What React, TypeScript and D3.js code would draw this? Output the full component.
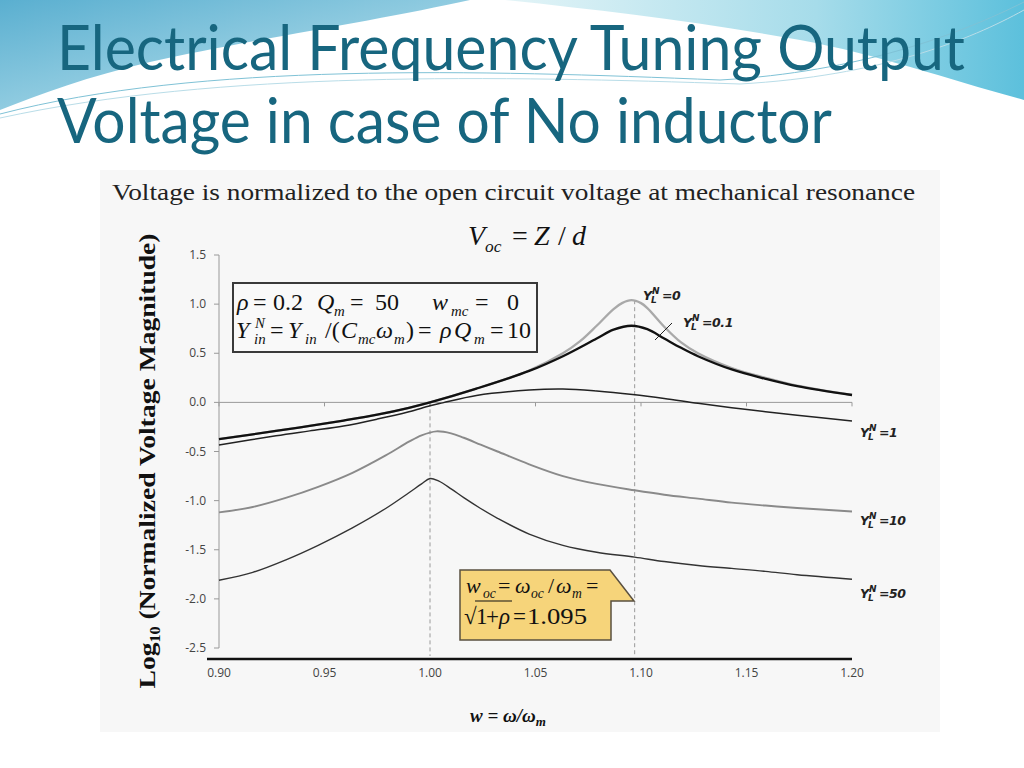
import * as d3 from "d3";

// Ticks dos eixos
const xTicks = [0.9, 0.95, 1.0, 1.05, 1.1, 1.15, 1.2];
const yTicks = [1.5, 1.0, 0.5, 0.0, -0.5, -1.0, -1.5, -2.0, -2.5];

// Curvas (w = omega/omega_m, log10 da tensao normalizada)
const wY0 = [0.9, 0.927, 0.943, 0.959, 0.975, 0.99, 1.0, 1.022, 1.047, 1.063, 1.071, 1.079, 1.087, 1.091, 1.0955, 1.1, 1.103, 1.111, 1.119, 1.127, 1.143, 1.159, 1.174, 1.2];
const vY0 = [-0.375, -0.29, -0.24, -0.185, -0.125, -0.055, 0, 0.14, 0.325, 0.5, 0.62, 0.78, 0.95, 1.01, 1.04, 1.01, 0.96, 0.77, 0.61, 0.5, 0.35, 0.25, 0.17, 0.075];

const wY01 = [0.9, 0.927, 0.943, 0.959, 0.975, 0.99, 1.0, 1.022, 1.047, 1.063, 1.079, 1.087, 1.0955, 1.103, 1.111, 1.119, 1.127, 1.143, 1.159, 1.174, 1.2];
const vY01 = [-0.375, -0.29, -0.24, -0.185, -0.125, -0.055, 0, 0.14, 0.32, 0.47, 0.65, 0.74, 0.78, 0.745, 0.65, 0.555, 0.47, 0.335, 0.24, 0.165, 0.075];

const wY1 = [0.9, 0.927, 0.943, 0.959, 0.975, 0.99, 1.0, 1.006, 1.022, 1.047, 1.063, 1.079, 1.096, 1.111, 1.127, 1.143, 1.159, 1.174, 1.2];
const vY1 = [-0.435, -0.34, -0.29, -0.24, -0.17, -0.095, -0.035, -0.005, 0.07, 0.125, 0.135, 0.115, 0.08, 0.04, -0.01, -0.055, -0.095, -0.13, -0.19];

const wY10 = [0.9, 0.916, 0.932, 0.947, 0.963, 0.979, 0.99, 0.996, 1.003, 1.01, 1.016, 1.024, 1.032, 1.047, 1.063, 1.079, 1.097, 1.111, 1.127, 1.143, 1.159, 1.174, 1.2];
const vY10 = [-1.12, -1.065, -0.97, -0.86, -0.72, -0.54, -0.4, -0.335, -0.295, -0.315, -0.36, -0.43, -0.5, -0.63, -0.75, -0.83, -0.895, -0.94, -0.98, -1.02, -1.05, -1.075, -1.11];

const wY50 = [0.9, 0.916, 0.932, 0.947, 0.963, 0.979, 0.99, 0.996, 1.0, 1.004, 1.01, 1.016, 1.024, 1.032, 1.047, 1.063, 1.079, 1.097, 1.111, 1.127, 1.143, 1.159, 1.174, 1.2];
const vY50 = [-1.81, -1.73, -1.6, -1.455, -1.28, -1.08, -0.92, -0.83, -0.775, -0.8, -0.88, -0.97, -1.08, -1.18, -1.34, -1.455, -1.525, -1.575, -1.62, -1.66, -1.69, -1.72, -1.755, -1.8];

// Frequencias de referencia (linhas tracejadas)
const W_MEC = 1.0;
const W_OC = 1.097;

const SERIES = [
  { id: "0", w: wY0, v: vY0, color: "#a9a9a9", width: 2.3 },
  { id: "0.1", w: wY01, v: vY01, color: "#111", width: 2.3 },
  { id: "1", w: wY1, v: vY1, color: "#222", width: 1.5 },
  { id: "10", w: wY10, v: vY10, color: "#8a8a8a", width: 1.9 },
  { id: "50", w: wY50, v: vY50, color: "#333", width: 1.4 }
];

const SERIF = "'Liberation Serif', 'DejaVu Serif', serif";
const LABEL_FONT = "'DejaVu Sans', Verdana, sans-serif";
const TICK_FONT = "'Open Sans', 'DejaVu Sans', sans-serif";

type Part = { x: number; t: string; i?: boolean; sub?: boolean; sup?: boolean; len?: number };

// Texto matematico com partes posicionadas
const MathLine = ({ y, size, parts }: { y: number; size: number; parts: Part[] }) => (
  <g fontFamily={SERIF} fill="#111">
    {parts.map((p, k) => (
      <text
        key={k}
        x={p.x}
        y={p.sub ? y + size * 0.24 : p.sup ? y - size * 0.42 : y}
        fontSize={p.sub || p.sup ? size * 0.62 : size}
        fontStyle={p.i ? "italic" : "normal"}
        textLength={p.len}
        lengthAdjust={p.len ? "spacingAndGlyphs" : undefined}
      >
        {p.t}
      </text>
    ))}
  </g>
);

// Rotulo Y_L^N = valor
const YLabel = ({ x, y, value }: { x: number; y: number; value: string }) => (
  <g fontFamily={LABEL_FONT} fontWeight="bold" fontStyle="italic" fill="#222" fontSize={12.5}>
    <text x={x} y={y}>Y</text>
    <text x={x + 9} y={y - 6} fontSize={9}>N</text>
    <text x={x + 8} y={y + 3} fontSize={9}>L</text>
    <text x={x + 19} y={y} letterSpacing={-0.4}>{"=" + value}</text>
  </g>
);

export default function App() {
  const x = d3.scaleLinear().domain([0.9, 1.2]).range([219, 852]);
  const y = d3.scaleLinear().domain([-2.5, 1.5]).range([648, 255]);

  const line = d3
    .line<[number, number]>()
    .x((d) => x(d[0]))
    .y((d) => y(d[1]))
    .curve(d3.curveCatmullRom.alpha(0.5));

  const peakY0 = d3.max(vY0) as number;

  return (
    <svg width={1024} height={768} style={{ position: "absolute", left: 0, top: 0 }}>
      <defs>
        <linearGradient id="gLeft" x1="0" y1="0" x2="1" y2="1">
          <stop offset="0" stopColor="#5aafd0" />
          <stop offset="1" stopColor="#c6e8f1" />
        </linearGradient>
        <linearGradient id="gRight" x1="0" y1="0" x2="1" y2="0">
          <stop offset="0" stopColor="#e3f4f7" />
          <stop offset="0.6" stopColor="#a6dcea" />
          <stop offset="1" stopColor="#5cc0dc" />
        </linearGradient>
      </defs>

      <rect width={1024} height={768} fill="#fff" />

      {/* Decoracao do slide */}
      <path d="M0,0 H470 C380,20 250,40 150,62 C90,76 40,94 0,110 Z" fill="url(#gLeft)" />
      <path d="M505,0 H1024 V100 C950,80 880,55 800,40 C700,22 600,10 505,0 Z" fill="url(#gRight)" />
      <path d="M0,114 C200,62 480,70 720,80 C860,72 960,34 1024,2" fill="none" stroke="#7fc2d6" strokeWidth={1} />
      <path d="M0,118 C220,70 500,76 740,84 C880,76 970,40 1024,10" fill="none" stroke="#b9dde8" strokeWidth={1} />

      {/* Titulo */}
      <g fontFamily="Lato, 'Open Sans', sans-serif" fill="#17667f" fontSize={62}>
        <text x={57} y={70} textLength={908} lengthAdjust="spacingAndGlyphs">
          Electrical Frequency Tuning Output
        </text>
        <text x={57} y={143} textLength={775} lengthAdjust="spacingAndGlyphs">
          Voltage in case of No inductor
        </text>
      </g>

      {/* Fundo da figura */}
      <rect x={100} y={170} width={840} height={562} fill="#f7f7f7" />

      <text x={112} y={200} fontFamily={SERIF} fontSize={24} fill="#222" textLength={803} lengthAdjust="spacingAndGlyphs">
        Voltage is normalized to the open circuit voltage at mechanical resonance
      </text>

      <MathLine
        y={245}
        size={28}
        parts={[
          { x: 468, t: "V", i: true },
          { x: 485, t: "oc", i: true, sub: true },
          { x: 512, t: "=" },
          { x: 534, t: "Z", i: true },
          { x: 558, t: "/" },
          { x: 572, t: "d", i: true }
        ]}
      />

      {/* Eixo Y */}
      <line x1={x(0.9)} x2={x(0.9)} y1={y(1.5)} y2={y(-2.5)} stroke="#999" />
      {yTicks.map((t) => (
        <g key={t}>
          <line x1={x(0.9) - 5} x2={x(0.9)} y1={y(t)} y2={y(t)} stroke="#999" />
          <text x={206} y={y(t) + 4} textAnchor="end" fontFamily={TICK_FONT} fontSize={12} fill="#444">
            {t.toFixed(1)}
          </text>
        </g>
      ))}

      {/* Eixo X em zero */}
      <line x1={x(0.9)} x2={x(1.2)} y1={y(0)} y2={y(0)} stroke="#999" />
      {xTicks.map((t) => (
        <g key={t}>
          <line x1={x(t)} x2={x(t)} y1={y(0)} y2={y(0) + 4} stroke="#999" />
          <text x={x(t)} y={677} textAnchor="middle" fontFamily={TICK_FONT} fontSize={12} fill="#444">
            {t.toFixed(2)}
          </text>
        </g>
      ))}
      <line x1={207} x2={x(1.2)} y1={659} y2={659} stroke="#111" strokeWidth={2.5} />

      {/* Linhas tracejadas */}
      <line x1={x(W_MEC)} x2={x(W_MEC)} y1={y(0)} y2={656} stroke="#9a9a9a" strokeDasharray="4,3" />
      <line x1={x(W_OC)} x2={x(W_OC)} y1={y(peakY0)} y2={656} stroke="#9a9a9a" strokeDasharray="4,3" />

      {/* Curvas */}
      {SERIES.map((s) => (
        <path
          key={s.id}
          d={line(s.w.map((w, k) => [w, s.v[k]] as [number, number])) ?? ""}
          fill="none"
          stroke={s.color}
          strokeWidth={s.width}
          strokeLinejoin="round"
        />
      ))}

      {/* Rotulos das curvas */}
      <YLabel x={643} y={300} value="0" />
      <YLabel x={683} y={327} value="0.1" />
      <line x1={655} y1={340} x2={672} y2={323} stroke="#222" strokeWidth={1} />
      <YLabel x={860} y={437} value="1" />
      <YLabel x={860} y={525} value="10" />
      <YLabel x={860} y={598} value="50" />

      {/* Caixa de parametros */}
      <rect x={233} y={283} width={304} height={69} fill="#f9f9f9" stroke="#3a3a3a" strokeWidth={2} />
      <MathLine
        y={310}
        size={24}
        parts={[
          { x: 237, t: "ρ", i: true },
          { x: 253, t: "=" },
          { x: 273, t: "0.2" },
          { x: 317, t: "Q", i: true },
          { x: 334, t: "m", i: true, sub: true },
          { x: 350, t: "=" },
          { x: 375, t: "50" },
          { x: 432, t: "w", i: true },
          { x: 451, t: "mc", i: true, sub: true },
          { x: 475, t: "=" },
          { x: 507, t: "0" }
        ]}
      />
      <MathLine
        y={338}
        size={24}
        parts={[
          { x: 236, t: "Y", i: true },
          { x: 255, t: "N", i: true, sup: true },
          { x: 254, t: "in", i: true, sub: true },
          { x: 270, t: "=" },
          { x: 288, t: "Y", i: true },
          { x: 305, t: "in", i: true, sub: true },
          { x: 325, t: "/(" },
          { x: 341, t: "C", i: true },
          { x: 358, t: "mc", i: true, sub: true },
          { x: 376, t: "ω", i: true },
          { x: 394, t: "m", i: true, sub: true },
          { x: 406, t: ")" },
          { x: 418, t: "=" },
          { x: 440, t: "ρ", i: true },
          { x: 454, t: "Q", i: true },
          { x: 474, t: "m", i: true, sub: true },
          { x: 490, t: "=" },
          { x: 507, t: "10" }
        ]}
      />

      {/* Balao com w_oc */}
      <path d="M460,570 H610 L634,601 H611 V640 H460 Z" fill="#f6d47a" stroke="#5a5040" strokeWidth={1.5} />
      <MathLine
        y={593}
        size={22}
        parts={[
          { x: 466, t: "w", i: true },
          { x: 483, t: "oc", i: true, sub: true },
          { x: 498, t: "=" },
          { x: 515, t: "ω", i: true },
          { x: 531, t: "oc", i: true, sub: true },
          { x: 548, t: "/" },
          { x: 556, t: "ω", i: true },
          { x: 572, t: "m", i: true, sub: true },
          { x: 586, t: "=" }
        ]}
      />
      <MathLine
        y={624}
        size={23}
        parts={[
          { x: 464, t: "√" },
          { x: 476, t: "1" },
          { x: 486, t: "+" },
          { x: 499, t: "ρ", i: true },
          { x: 513, t: "=" },
          { x: 527, t: "1.095", len: 60 }
        ]}
      />
      <line x1={475} x2={512} y1={601} y2={601} stroke="#111" strokeWidth={1.2} />

      {/* Titulos dos eixos */}
      <text
        transform="translate(155,461) rotate(-90)"
        textAnchor="middle"
        fontFamily={SERIF}
        fontWeight="bold"
        fontSize={24}
        fill="#111"
        textLength={455}
        lengthAdjust="spacingAndGlyphs"
      >
        <tspan>Log</tspan>
        <tspan fontSize={14} dy={5}>10</tspan>
        <tspan dy={-5}> (Normalized Voltage Magnitude)</tspan>
      </text>

      <text x={470} y={722} fontFamily={SERIF} fontWeight="bold" fontStyle="italic" fill="#111" fontSize={19}>
        w = ω/ω<tspan fontSize={13} dy={4}>m</tspan>
      </text>
    </svg>
  );
}
